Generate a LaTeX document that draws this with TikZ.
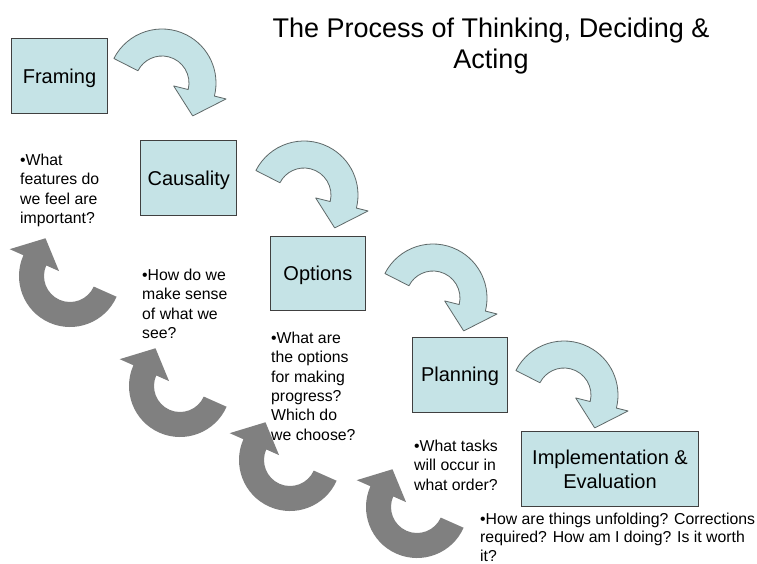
\documentclass[tikz,border=0pt]{standalone}
\usepackage{fontspec}
\setmainfont{Liberation Sans}
\usetikzlibrary{calc}
\definecolor{boxfill}{RGB}{197,227,230}
\definecolor{boxline}{RGB}{64,64,64}
\definecolor{arrowline}{RGB}{95,105,105}
\definecolor{backgray}{RGB}{128,128,128}
\tikzset{
  stage/.style={draw=boxline, line width=0.9pt, fill=boxfill, minimum width=95.6pt,
    minimum height=74.5pt, inner sep=0pt, align=center, text depth=0pt,
    font=\fontsize{20}{23.5}\selectfont},
  question/.style={anchor=base west, inner sep=0pt, align=left, font=\fontsize{15.8}{19.3}\selectfont},
  fwdarrow/.style={fill=boxfill, draw=arrowline, line width=0.8pt, line join=round},
  backarrow/.style={fill=backgray},
}
% #1 style, #2 centre coordinate, #3 tail angle, #4 head angle, #5 outer radius, #6 inner radius
\newcommand\circarrow[6]{%
  \path[#1] ($(#2)+(#3:#5)$) arc[start angle=#3, end angle=#4, radius=#5]
    -- ($(#2)+(#4:66)$) -- ($(#2)+(#4-33:45)$) -- ($(#2)+(#4:12)$)
    -- ($(#2)+(#4:#6)$) arc[start angle=#4, end angle=#3, radius=#6] -- cycle;
}
\begin{document}
\begin{tikzpicture}[x=1pt, y=1pt]
\useasboundingbox (0,0) rectangle (757,-563);
\fill[white] (0,0) rectangle (757,-563);

% title (anchor = baseline of last line)
\node[font=\fontsize{27}{31}\selectfont, align=center, anchor=base, inner sep=0pt] (title) at (491,-68)
  {The Process of Thinking, Deciding \&\\Acting};

% forward (blue) curved arrows
\coordinate (b1) at (162,-83);
\coordinate (b2) at (304,-195);
\coordinate (b3) at (433,-298);
\coordinate (b4) at (564,-395);
\circarrow{fwdarrow}{b1}{153}{-14}{54}{27}
\circarrow{fwdarrow}{b2}{153}{-14}{54}{27}
\circarrow{fwdarrow}{b3}{153}{-14}{54}{27}
\circarrow{fwdarrow}{b4}{153}{-14}{54}{27}

% backward (grey) curved arrows
\coordinate (g1) at (70,-276);
\coordinate (g2) at (180,-386);
\coordinate (g3) at (290,-460);
\coordinate (g4) at (417,-507);
\circarrow{backarrow}{g1}{-24}{-204}{51}{26}
\circarrow{backarrow}{g2}{-24}{-204}{51}{26}
\circarrow{backarrow}{g3}{-24}{-204}{51}{26}
\circarrow{backarrow}{g4}{-24}{-204}{51}{26}

% stages
\node[stage] (framing) at (59.5,-75.8) {Framing};
\node[stage] (causality) at (188.7,-178) {Causality};
\node[stage] (options) at (317.9,-273.4) {Options};
\node[stage] (planning) at (460,-374.7) {Planning};
\node[stage, minimum width=176.6pt] (impl) at (610,-469) {Implementation \&\\Evaluation};

% questions (anchor = baseline of last line)
\node[question] (q1) at (20,-223.4) {•What\\features do\\we feel are\\important?};
\node[question] (q2) at (142,-338.4) {•How do we\\make sense\\of what we\\see?};
\node[question] (q3) at (271,-440) {•What are\\the options\\for making\\progress?\\Which do\\we choose?};
\node[question] (q4) at (414,-490.1) {•What tasks\\will occur in\\what order?};
\node[question, font=\fontsize{15.8}{18.5}\selectfont] (q5) at (480,-561)
  {•How are things unfolding? Corrections\\required? How am I doing? Is it worth\\it?};
\end{tikzpicture}
\end{document}
